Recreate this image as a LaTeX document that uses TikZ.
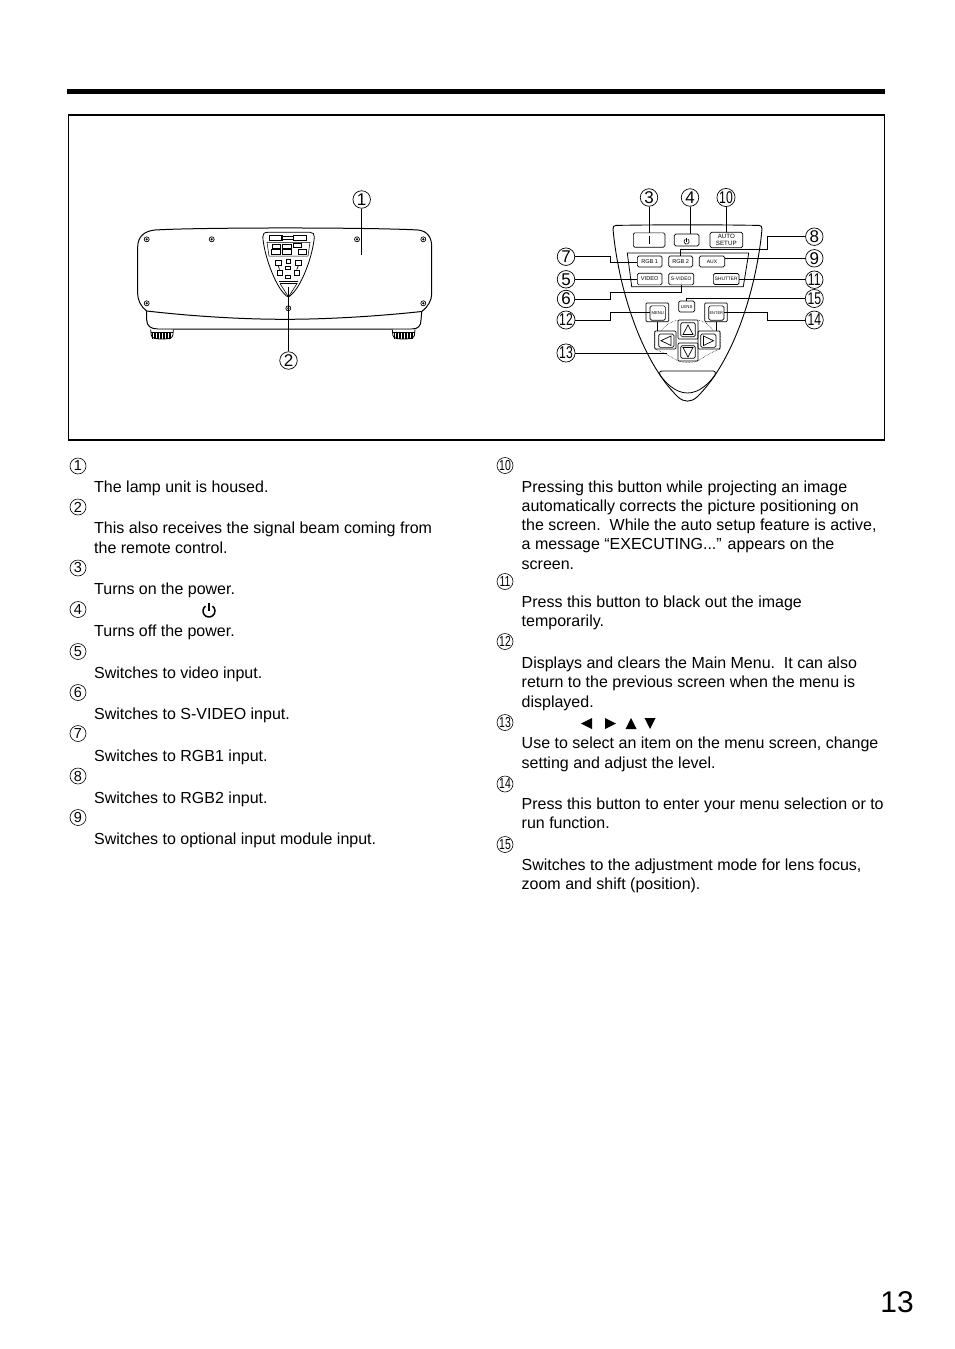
\documentclass[tikz,border=0pt]{standalone}
\usepackage{fontspec}
\usepackage{graphicx}
\setmainfont{Liberation Sans}
\usetikzlibrary{calc}
\tikzset{
 ln/.style={line width=0.7pt,black},
 leader/.style={line width=0.9pt,black},
 cn/.style={circle,draw,line width=0.7pt,minimum size=17.5pt,inner sep=0pt,font=\fontsize{17}{17}\selectfont},
 cs/.style={circle,draw,line width=0.6pt,minimum size=16pt,inner sep=0pt,font=\fontsize{14.5}{14.5}\selectfont},
 txt/.style={anchor=base west,inner sep=0pt,font=\fontsize{16}{18}\selectfont},
 btn/.style={draw,line width=0.7pt,rounded corners=1.5pt,inner sep=0pt,align=center,font=\fontsize{5.6}{5.8}\selectfont},
 obtn/.style={draw,line width=0.7pt,rounded corners=1pt,inner sep=0pt},
 mini/.style={draw,line width=0.5pt,inner sep=0pt},
 minid/.style={draw,line width=0.9pt,inner sep=0pt},
 scr/.style={circle,draw,line width=0.7pt,minimum size=5pt,inner sep=0pt,path picture={\fill (path picture bounding box.center) circle (1.2pt);}},
 pwr/.pic={\draw[line width=1.5pt] (125:6pt) arc[start angle=125,end angle=415,radius=6pt]; \draw[line width=1.5pt] (0,-8.5) -- (0,0);},
 pwr2/.pic={\draw[line width=0.6pt] (120:2.6pt) arc[start angle=120,end angle=420,radius=2.6pt]; \draw[line width=0.6pt] (0,-3.8) -- (0,0);},
}
\newcommand{\tn}[1]{\scalebox{0.72}[1]{#1}}
\begin{document}
\begin{tikzpicture}[x=1pt,y=-1pt]
\useasboundingbox (0,0) rectangle (954,1349);
\fill[white] (0,0) rectangle (954,1349);
% header and frame
\fill[black] (67,89) rectangle (885,93.5);
\draw[line width=1.2pt] (68.3,115) rectangle (884.5,440);

% ---------- projector
\draw[line width=1pt] (146.7,311) .. controls (141,307) and (137.7,300) .. (137.7,294)
  -- (137.7,247) .. controls (137.7,236) and (145,231) .. (155,230)
  .. controls (200,227.3) and (370,227.3) .. (418,230)
  .. controls (428,231) and (431.7,238) .. (431.7,247)
  -- (431.7,294) .. controls (431.7,300) and (428,307) .. (421.7,311.5)
  .. controls (380,316) and (330,319.3) .. (285,319.3)
  .. controls (240,319.3) and (190,316) .. (146.7,311) -- cycle;
\draw[line width=1pt] (146.7,311) -- (146.7,320) .. controls (146.7,326) and (151,329) .. (158,329)
  -- (412,329) .. controls (418,329) and (421,326) .. (421,320) -- (421.7,311.5);
\foreach \fx in {150.7,392.3}{
  \draw[line width=0.8pt,fill=white] (\fx,329.5) -- (\fx+0.5,335) .. controls (\fx+1,338) and (\fx+4,339) .. (\fx+11.3,339) .. controls (\fx+18.7,339) and (\fx+21.7,338) .. (\fx+22.2,335) -- (\fx+22.7,329.5);
  \draw[line width=0.6pt] (\fx,332) -- (\fx+22.7,332);
  \foreach \k in {2,3.5,...,21}{\draw[line width=0.45pt] (\fx+\k,332) -- (\fx+\k,338.5);}
}
\node[scr] (s1) at (146.7,239.3) {};
\node[scr] (s2) at (211.7,239.3) {};
\node[scr] (s3) at (357,239.3) {};
\node[scr] (s4) at (423.3,239.3) {};
\node[scr] (s5) at (146.7,303.3) {};
\node[scr] (s6) at (423.3,303.3) {};
\node[scr] (s7) at (288.3,308.3) {};
% small control panel
\draw[line width=0.8pt] (268,232.3) -- (310,232.3) .. controls (313,232.3) and (314.5,234) .. (314.3,237)
  .. controls (313,255) and (302,285) .. (292,294) .. controls (289.5,297.5) and (287,297.5) .. (284.5,294)
  .. controls (275,285) and (264,255) .. (262.8,237) .. controls (262.6,234) and (264,232.3) .. (268,232.3) -- cycle;
\draw[line width=0.5pt] (267,242.3) -- (310,242.3) -- (308,256) -- (269,256) -- cycle;
\node[mini,minimum width=13pt,minimum height=5pt] (m1) at (275.7,237.8) {};
\node[mini,minimum width=12pt,minimum height=3.6pt] (m2) at (287,237.8) {};
\node[mini,minimum width=13pt,minimum height=5pt] (m3) at (300,237.8) {};
\node[mini,minimum width=8.5pt,minimum height=4.2pt] (m4) at (276.2,246) {};
\node[mini,minimum width=8.5pt,minimum height=4.2pt] (m5) at (286.5,246) {};
\node[mini,minimum width=8.5pt,minimum height=4.2pt] (m6) at (297,245.5) {};
\node[mini,minimum width=8.5pt,minimum height=4.2pt] (m7) at (275.5,251.8) {};
\node[mini,minimum width=8.5pt,minimum height=4.2pt] (m8) at (286.5,251.8) {};
\node[mini,minimum width=8.5pt,minimum height=4.2pt] (m9) at (302,251.8) {};
\node[minid,minimum width=5.6pt,minimum height=5.2pt] (m10) at (278.3,263) {};
\node[mini,minimum width=4.6pt,minimum height=3.6pt] (m11) at (288.3,261.3) {};
\node[minid,minimum width=5.6pt,minimum height=5.2pt] (m12) at (298.3,263) {};
\node[minid,minimum width=5pt,minimum height=3.4pt] (m13) at (288.3,268) {};
\node[minid,minimum width=5pt,minimum height=5pt] (m14) at (279.5,272.5) {};
\node[minid,minimum width=5pt,minimum height=5pt] (m15) at (296.7,272.5) {};
\node[minid,minimum width=5pt,minimum height=3.4pt] (m16) at (288.3,277) {};
\draw[ln] (m10.south) -- (m14.north);
\draw[ln] (m12.south) -- (m15.north);
\draw[line width=0.5pt] (279,281.5) -- (298,281.5);
\draw[line width=0.6pt] (280,283.5) -- (297,283.5) -- (288.5,297);
\draw[line width=0.6pt] (280,283.5) -- (288.5,297);

\node[cn] (c1) at (361.7,199.5) {1};
\coordinate (e1) at (361.7,255);
\draw[leader] (c1.south) -- (e1);
\node[cn] (c2) at (288.5,360.5) {2};
\coordinate (e2) at (288.5,286.7);
\draw[leader] (c2.north) -- (e2);

% ---------- remote
\draw[line width=0.9pt] (613,229) .. controls (612.8,226.5) and (614,225.5) .. (616,225.4)
  .. controls (665,224.6) and (710,224.6) .. (759,225.4)
  .. controls (761,225.5) and (762.2,226.5) .. (762,229)
  .. controls (757,285) and (735,360) .. (697,397)
  .. controls (691,402.5) and (684,402.5) .. (678,397)
  .. controls (640,360) and (618,285) .. (613,229) -- cycle;
\draw[line width=0.8pt] (660,375) .. controls (659,371.8) and (660,371) .. (663,371)
  -- (712,371) .. controls (715,371) and (716,371.8) .. (715,375)
  .. controls (710,382) and (700,393) .. (687.5,393)
  .. controls (675,393) and (665,382) .. (660,375) -- cycle;
\draw[line width=0.8pt] (627.3,253) -- (631.7,286.7) -- (743.3,286.7) -- (748.7,253) -- cycle;

\node[btn,minimum width=31.7pt,minimum height=14.3pt] (bI) at (649.2,240) {};
\draw[line width=0.8pt] (649.2,236) -- (649.2,244);
\node[btn,minimum width=24.7pt,minimum height=12pt] (bP) at (686.6,240) {};
\pic at (686.6,241.5) {pwr2};
\node[btn,minimum width=32.7pt,minimum height=15.4pt,font=\fontsize{6.2}{6.4}\selectfont] (bA) at (726.3,240) {AUTO\\SETUP};
\node[btn,minimum width=24.7pt,minimum height=11pt] (bR1) at (649.7,261.5) {RGB 1};
\node[btn,minimum width=24pt,minimum height=11pt] (bR2) at (680.7,261.5) {RGB 2};
\node[btn,minimum width=25.4pt,minimum height=11pt,font=\fontsize{5}{5}\selectfont] (bX) at (712,261.5) {AUX};
\node[btn,minimum width=24.7pt,minimum height=11.7pt] (bV) at (649.7,279) {VIDEO};
\node[btn,minimum width=25pt,minimum height=11.7pt,font=\fontsize{5}{5}\selectfont] (bS) at (681.2,279) {S-VIDEO};
\node[btn,minimum width=25.7pt,minimum height=11pt,font=\fontsize{4.8}{5}\selectfont] (bH) at (726.2,279) {SHUTTER};
\node[btn,minimum width=16pt,minimum height=11pt,font=\fontsize{4.4}{5}\selectfont] (bL) at (686.7,306.5) {LENS};
\node[obtn,minimum width=22.7pt,minimum height=18.7pt] (oM) at (657.3,312.3) {};
\node[btn,minimum width=15.3pt,minimum height=14.3pt,font=\fontsize{4.2}{5}\selectfont] (bM) at (657.7,313) {MENU};
\node[obtn,minimum width=22.6pt,minimum height=18.7pt] (oE) at (716,312.3) {};
\node[btn,minimum width=15.3pt,minimum height=14.3pt,font=\fontsize{4}{5}\selectfont] (bE) at (716.3,313) {ENTER};
\node[obtn,minimum width=20pt,minimum height=19pt] (oU) at (688,329.5) {};
\node[btn,minimum width=14.6pt,minimum height=14pt] (bU) at (688,329.7) {};
\node[obtn,minimum width=20pt,minimum height=18pt] (oD) at (688,352) {};
\node[btn,minimum width=14.6pt,minimum height=12.6pt] (bD) at (688,352) {};
\node[obtn,minimum width=21.3pt,minimum height=18pt] (oL) at (665.3,340) {};
\node[btn,minimum width=15.3pt,minimum height=13.3pt] (bF) at (666.3,340.7) {};
\node[obtn,minimum width=22pt,minimum height=18pt] (oR) at (709,340) {};
\node[btn,minimum width=15.3pt,minimum height=13.3pt] (bG) at (708.3,340.7) {};
\draw[ln] (683,334.5) -- (688,325) -- (693,334.5) -- cycle;
\draw[ln] (683,347.5) -- (688,357) -- (693,347.5) -- cycle;
\draw[ln] (671,336) -- (661,340.7) -- (671,345.5) -- cycle;
\draw[ln] (703.5,336) -- (713.5,340.7) -- (703.5,345.5) -- cycle;
\draw[ln] (oM.south -| bM) -- (oL.north -| bM);
\draw[ln] (oE.south -| bE) -- (oR.north -| bE);
% dotted area round the direction keys
\draw[line width=0.5pt,densely dotted] (661,331) .. controls (665,325) and (672,321) .. (678,320);
\draw[line width=0.5pt,densely dotted] (698,320) .. controls (704,321) and (710,325) .. (713.5,331);
\draw[line width=0.5pt,densely dotted] (655,331) .. controls (654,338) and (654,344) .. (655,349) .. controls (662,352) and (670,356) .. (678,361)
   .. controls (684,363) and (692,363) .. (698,361) .. controls (705,356) and (712,352) .. (720,349) .. controls (721,344) and (721,338) .. (720,331);

% callouts
\node[cn] (c3) at (649,197.5) {3};
\node[cn] (c4) at (690,197.5) {4};
\node[cn] (c10) at (726,197.5) {\tn{10}};
\node[cn] (c8) at (814.3,236.7) {8};
\node[cn] (c9) at (814.3,258.3) {9};
\node[cn] (c11) at (814.3,279.7) {\tn{11}};
\node[cn] (c15) at (814.3,298.5) {\tn{15}};
\node[cn] (c14) at (814.3,320) {\tn{14}};
\node[cn] (c7) at (566,256.7) {7};
\node[cn] (c5) at (566,279.3) {5};
\node[cn] (c6) at (566,299) {6};
\node[cn] (c12) at (566,320) {\tn{12}};
\node[cn] (c13) at (566,353) {\tn{13}};
\draw[leader] (c3.south) -- (c3.south |- bI.north);
\draw[leader] (c4.south) -- (c4.south |- bP.north);
\draw[leader] (c10.south) -- (c10.south |- bA.north);
\draw[leader] (c8.west) -- (767.3,236.7) -- (767.3,249.3) -| (bR2.north);
\draw[leader] (c9.west) -- (c9.west -| bX.east);
\draw[leader] (c11.west) -- (c11.west -| bH.east);
\draw[leader] (c15.west) -| (bL.north);
\draw[leader] (c14.west) -- (767.3,320) -- (767.3,312.7) -- (bE.east |- 0,312.7);
\draw[leader] (c7.east) -- (610,256.7) -- (610,262) -- (bR1.west |- 0,262);
\draw[leader] (c5.east) -- (c5.east -| bV.west);
\draw[leader] (c6.east) -- (610,299) -- (610,292.7) -- (681.7,292.7) -- (681.7,284.85);
\draw[leader] (c12.east) -- (610,320) -- (610,312.7) -- (bM.west |- 0,312.7);
\coordinate (e13) at (666.7,353);
\draw[leader] (c13.east) -- (e13);

% ---------- left column
\node[cs] (t1) at (78,466) {1};
\node[txt] (l1) at (94,492.5) {The lamp unit is housed.};
\node[cs] (t2) at (78,507) {2};
\node[txt] (l2) at (94,533) {This also receives the signal beam coming from};
\node[txt] (l3) at (94,553) {the remote control.};
\node[cs] (t3) at (78,568) {3};
\node[txt] (l4) at (94,594.5) {Turns on the power.};
\node[cs] (t4) at (78,609.5) {4};
\pic at (209,611) {pwr};
\node[txt] (l5) at (94,636) {Turns off the power.};
\node[cs] (t5) at (78,651.5) {5};
\node[txt] (l6) at (94,678) {Switches to video input.};
\node[cs] (t6) at (78,692.5) {6};
\node[txt] (l7) at (94,719.5) {Switches to S-VIDEO input.};
\node[cs] (t7) at (78,733.5) {7};
\node[txt] (l8) at (94,761.5) {Switches to RGB1 input.};
\node[cs] (t8) at (78,776) {8};
\node[txt] (l9) at (94,803) {Switches to RGB2 input.};
\node[cs] (t9) at (78,817.5) {9};
\node[txt] (l10) at (94,844.5) {Switches to optional input module input.};

% ---------- right column
\node[cs] (t10) at (505,465.5) {\tn{10}};
\node[txt] (r1) at (521.5,492.5) {Pressing this button while projecting an image};
\node[txt] (r2) at (521.5,511.5) {automatically corrects the picture positioning on};
\node[txt] (r3) at (521.5,530.5) {the screen.\ \ While the auto setup feature is active,};
\node[txt] (r4) at (521.5,549.5) {a message “EXECUTING...” appears on the};
\node[txt] (r5) at (521.5,569) {screen.};
\node[cs] (t11) at (505,581.5) {\tn{11}};
\node[txt] (r6) at (521.5,607.5) {Press this button to black out the image};
\node[txt] (r7) at (521.5,626) {temporarily.};
\node[cs] (t12) at (505,641.5) {\tn{12}};
\node[txt] (r8) at (521.5,668) {Displays and clears the Main Menu.\ \ It can also};
\node[txt] (r9) at (521.5,687) {return to the previous screen when the menu is};
\node[txt] (r10) at (521.5,707) {displayed.};
\node[cs] (t13) at (505,722.5) {\tn{13}};
\fill (581,723.5) -- (592,718) -- (592,729) -- cycle;
\fill (616,723.5) -- (605,718) -- (605,729) -- cycle;
\fill (631,718) -- (625.5,729) -- (636.5,729) -- cycle;
\fill (650,729) -- (644.5,718) -- (655.5,718) -- cycle;
\node[txt] (r11) at (521.5,748.5) {Use to select an item on the menu screen, change};
\node[txt] (r12) at (521.5,768) {setting and adjust the level.};
\node[cs] (t14) at (505,784) {\tn{14}};
\node[txt] (r13) at (521.5,809.5) {Press this button to enter your menu selection or to};
\node[txt] (r14) at (521.5,828) {run function.};
\node[cs] (t15) at (505,844.5) {\tn{15}};
\node[txt] (r15) at (521.5,870) {Switches to the adjustment mode for lens focus,};
\node[txt] (r16) at (521.5,889) {zoom and shift (position).};

\node[anchor=base,inner sep=0pt,font=\fontsize{30}{32}\selectfont] (pg) at (897,1312) {13};
\end{tikzpicture}
\end{document}
